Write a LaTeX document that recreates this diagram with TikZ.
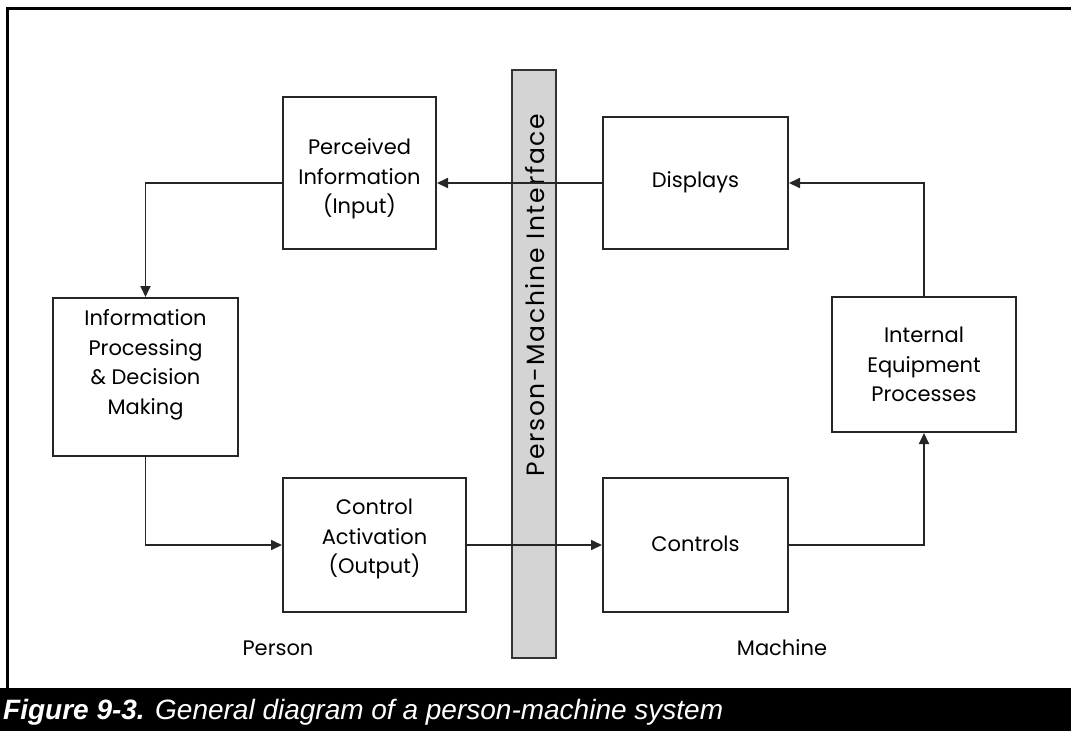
\documentclass[tikz,border=0pt]{standalone}
\usepackage{fontspec}
\setmainfont{Poppins}
\newfontfamily\capfont{Liberation Sans}
\usetikzlibrary{arrows.meta}
\begin{document}
\begin{tikzpicture}[x=1pt,y=-1pt,
  box/.style={draw=black!85, line width=2pt, fill=white, inner sep=0pt},
  txt/.style={align=center, font=\fontsize{21}{29.5}\selectfont, inner sep=0pt},
  arr/.style={draw=black!85, line width=1.8pt, -{Triangle[length=11pt,width=10pt]}},
  lab/.style={font=\fontsize{21}{26}\selectfont, inner sep=0pt},
  frame/.style={line width=3pt, black}
]
\useasboundingbox (0,0) rectangle (1071,731);
% frame
\draw[frame] (7,688) -- (7,8) -- (1071,8);
\fill[black] (0,688) rectangle (1071,731);
\node[anchor=base west, text=white, inner sep=0pt, font=\capfont\fontsize{28}{32}\selectfont] (cap) at (3,719)
  {\textbf{\textit{Figure 9-3.}} \textit{General diagram of a person-machine system}};
% interface bar
\node[draw=black!80, line width=2pt, fill=black!17, minimum width=44pt, minimum height=588pt, inner sep=0pt] (bar) at (534,364) {};
\node[rotate=90, font=\fontsize{25}{27}\selectfont\addfontfeatures{LetterSpace=7}, inner sep=0pt] (bartext) at (535,295) {Person-Machine Interface};
% boxes
\node[box, minimum width=153pt, minimum height=152pt] (perc) at (359.5,173) {};
\node[box, minimum width=185pt, minimum height=132pt] (disp) at (695.5,183) {};
\node[box, minimum width=185pt, minimum height=158pt] (info) at (145.5,377) {};
\node[box, minimum width=184pt, minimum height=135pt] (intern) at (924,364.5) {};
\node[box, minimum width=183pt, minimum height=134pt] (ctrlact) at (374.5,545) {};
\node[box, minimum width=185pt, minimum height=134pt] (ctrls) at (695.5,545) {};
% box texts
\node[txt] (percT) at ([yshift=-6pt]perc.center) {Perceived\\Information\\(Input)};
\node[txt] (dispT) at ([yshift=1pt]disp.center) {Displays};
\node[txt] (infoT) at ([yshift=12pt]info.center) {Information\\Processing\\\& Decision\\Making};
\node[txt] (internT) at (intern.center) {Internal\\Equipment\\Processes};
\node[txt] (ctrlactT) at ([yshift=6pt]ctrlact.center) {Control\\Activation\\(Output)};
\node[txt] (ctrlsT) at ([yshift=1pt]ctrls.center) {Controls};
% labels
\node[lab] (person) at (278,648) {Person};
\node[lab] (machine) at (782,648) {Machine};
% connectors
\draw[arr] (disp.west) -- (perc.east |- disp.west);
\draw[arr] (perc.west |- disp.west) -| (info.north);
\draw[arr] (info.south) |- (ctrlact.west);
\draw[arr] (ctrlact.east) -- (ctrls.west);
\draw[arr] (ctrls.east) -| (intern.south);
\draw[arr] (intern.north) |- (disp.east);
\end{tikzpicture}
\end{document}
